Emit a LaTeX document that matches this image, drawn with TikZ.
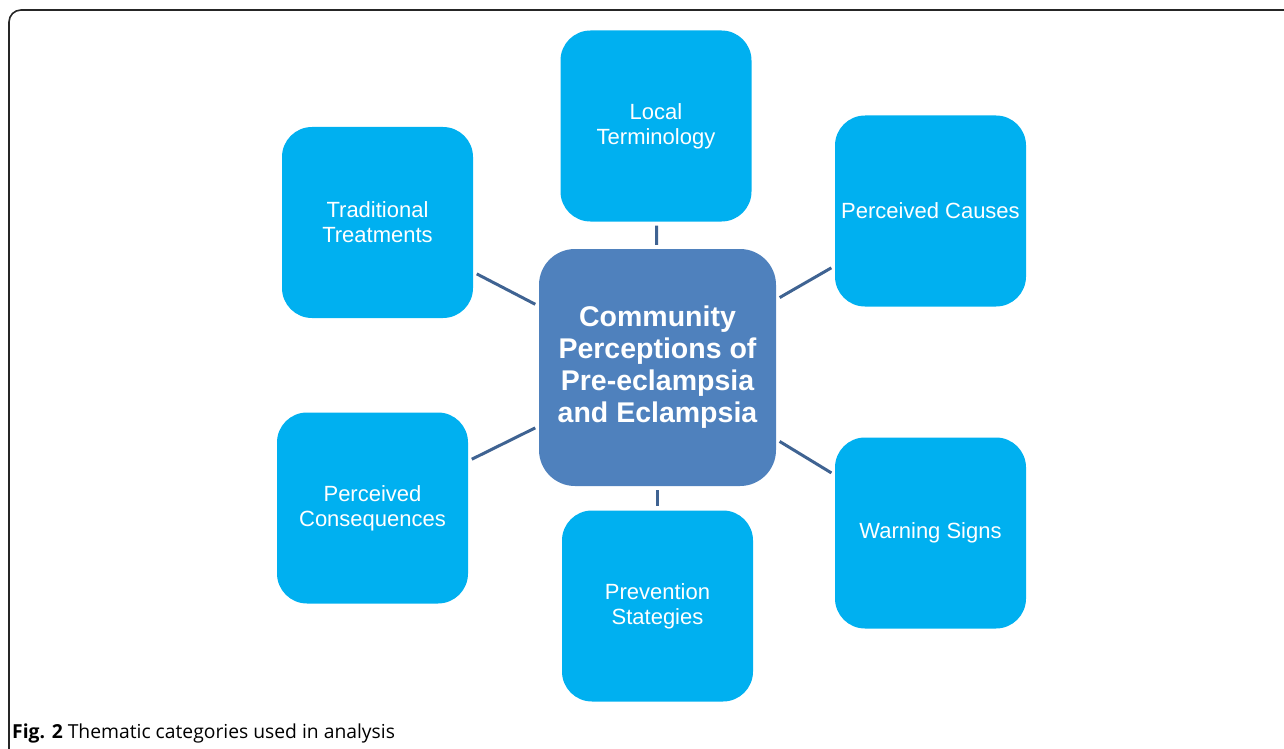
\documentclass[tikz,border=0pt]{standalone}
\usepackage{fontspec}
\setmainfont{Liberation Sans}
\newfontfamily\capfont{Open Sans}
\usetikzlibrary{shapes}
\definecolor{themecyan}{HTML}{00B0F0}
\definecolor{hubblue}{HTML}{4F81BD}
\definecolor{linkblue}{HTML}{3F6392}
\tikzset{
	themenode/.style = {align=center, inner sep=0pt, text centered, white,
		font=\fontsize{22}{25}\selectfont},
	theme_c/.style = {themenode, rectangle, rounded corners=30pt, fill=themecyan,
		minimum width=191pt, minimum height=191pt},% categorie, case bleu clair
	theme_h/.style = {themenode, rectangle, rounded corners=36pt, fill=hubblue,
		minimum width=237pt, minimum height=237pt,
		font=\fontsize{28.5}{32}\selectfont\bfseries},% noeud central
	theme_l/.style = {draw=linkblue, line width=3pt, shorten >=4pt, shorten <=4pt}% lien
}
\begin{document}
\begin{tikzpicture}[x=1pt,y=-1pt]
	\useasboundingbox (0,0) rectangle (1284,749);
	% cadre
	\draw[line width=1.6pt, black!85, rounded corners=12pt] (9,760) -- (9,10) -- (1290,10);
	\node [theme_h] (hub) at (657.5,367.5) {Community\\Perceptions of\\Pre-eclampsia\\and Eclampsia};
	\node [theme_c] (term) at (656,126) {Local\\Terminology};
	\node [theme_c] (cause) at (930.5,211) {Perceived Causes};
	\node [theme_c] (warn) at (930.5,533) {Warning Signs};
	\node [theme_c] (prev) at (657.5,606) {Prevention\\Stategies};
	\node [theme_c] (cons) at (372.5,508) {Perceived\\Consequences};
	\node [theme_c] (trad) at (377.5,222.5) {Traditional\\Treatments};
	\draw [theme_l] (hub) -- (term);
	\draw [theme_l] (hub) -- (cause);
	\draw [theme_l] (hub) -- (warn);
	\draw [theme_l] (hub) -- (prev);
	\draw [theme_l] (hub) -- (cons);
	\draw [theme_l] (hub) -- (trad);
	\node [anchor=base west, inner sep=0pt, font=\capfont\fontsize{19.3}{22}\selectfont] (caption) at (12,738)
		{\textbf{Fig. 2} Thematic categories used in analysis};
\end{tikzpicture}
\end{document}
